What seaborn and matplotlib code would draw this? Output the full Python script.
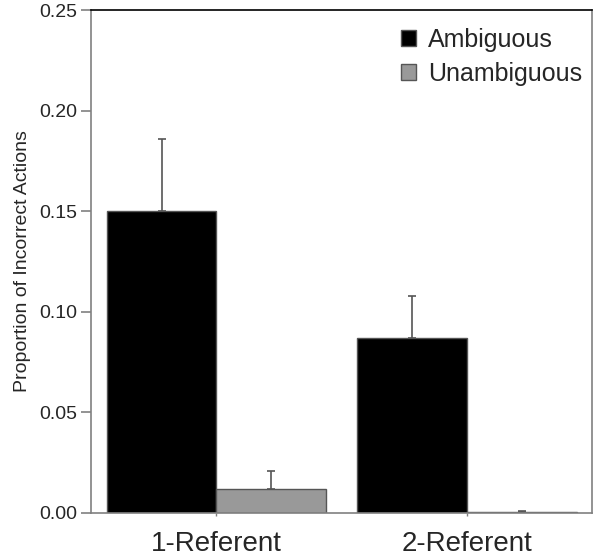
import pandas as pd
import numpy as np
import seaborn as sns
import matplotlib.pyplot as plt

# values
conditions = ['1-Referent', '2-Referent']
groups = ['Ambiguous', 'Unambiguous']
ambiguous = [0.150, 0.087]
unambiguous = [0.012, 0.0005]
ambiguous_err = [0.036, 0.021]
unambiguous_err = [0.009, 0.0005]
yticks = [0.00, 0.05, 0.10, 0.15, 0.20, 0.25]

df = pd.DataFrame({
    'Condition': conditions * 2,
    'Group': [groups[0]] * 2 + [groups[1]] * 2,
    'Proportion': ambiguous + unambiguous,
    'Err': ambiguous_err + unambiguous_err,
})

sns.set_style('white')
plt.rcParams['font.family'] = ['Liberation Sans', 'DejaVu Sans']

fig = plt.figure(figsize=(6, 5.58), dpi=100)
ax = fig.add_axes([0.152, 0.081, 0.835, 0.901])

sns.barplot(data=df, x='Condition', y='Proportion', hue='Group',
            hue_order=groups, order=conditions,
            palette=['#000000', '#999999'], width=0.875,
            edgecolor='#555555', linewidth=1, errorbar=None, ax=ax)

# upward-only error bars, placed on the bar centres seaborn drew
bars = [p for p in ax.patches if p.get_height() > 0][:4]
errs = ambiguous_err + unambiguous_err
for bar, e in zip(bars, errs):
    xc = bar.get_x() + bar.get_width() / 2
    ax.errorbar(xc, bar.get_height(), yerr=[[0], [e]], fmt='none',
                ecolor='#555555', elinewidth=1.2, capsize=3, capthick=1.2)

ax.set_xlim(-0.5, 1.5)
ax.set_ylim(0, 0.25)
ax.set_yticks(yticks)
ax.set_yticklabels([f'{t:.2f}' for t in yticks])
ax.set_xlabel('')
ax.set_ylabel('Proportion of Incorrect Actions', fontsize=14, labelpad=6)

for side in ['left', 'right', 'bottom']:
    ax.spines[side].set_color('#808080')
    ax.spines[side].set_linewidth(1.2)
ax.spines['top'].set_color('#000000')
ax.spines['top'].set_linewidth(1.2)

ax.tick_params(axis='y', which='both', left=True, length=7, width=1.2,
               color='#808080', labelsize=14, pad=3)
ax.tick_params(axis='x', which='both', bottom=True, length=2, width=1,
               color='#808080', labelsize=20, pad=11)

leg = ax.legend(loc='upper right', bbox_to_anchor=(1.03, 1.015), frameon=False,
                fontsize=18, handlelength=0.6, handleheight=0.6,
                handletextpad=0.5, labelspacing=0.4, borderaxespad=0.6)

fig.savefig('out.png', dpi=100)
